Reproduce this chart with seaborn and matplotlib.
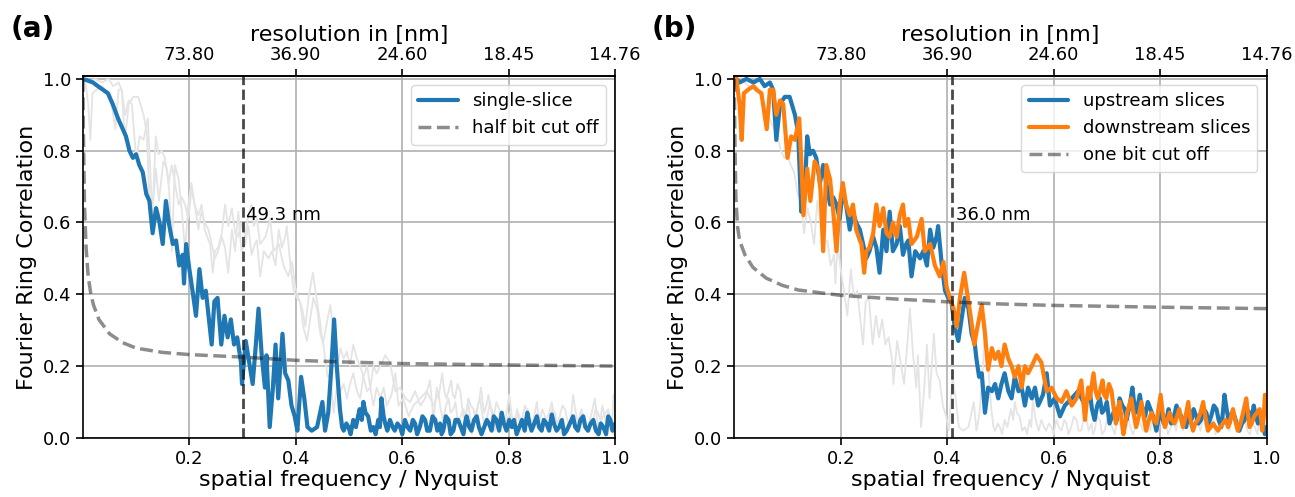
import numpy as np
import pandas as pd
import seaborn as sns
import matplotlib.pyplot as plt

# ---------------------------------------------------------------
# values
# ---------------------------------------------------------------
nyquist_nm = 14.76          # resolution at spatial frequency 1.0
cut_a = 0.30                # crossing of single-slice FRC with half bit
cut_b = 0.41                # crossing of upstream/downstream FRC with one bit
label_a = "49.3 nm"
label_b = "36.0 nm"
top_ticks = [0.2, 0.4, 0.6, 0.8, 1.0]

single_f = [0.0, 0.01, 0.019, 0.028, 0.0375, 0.047, 0.056, 0.066, 0.075, 0.081,
            0.0875, 0.094, 0.1, 0.106, 0.1125, 0.119, 0.125, 0.131, 0.1375, 0.144,
            0.15, 0.156, 0.1625, 0.169, 0.175, 0.181, 0.1875, 0.19, 0.194, 0.2,
            0.206, 0.2125, 0.219, 0.225, 0.231, 0.2375, 0.242, 0.247, 0.253, 0.26,
            0.266, 0.272, 0.278, 0.284, 0.29, 0.297, 0.299, 0.306, 0.3125, 0.319,
            0.325, 0.33, 0.336, 0.342, 0.345, 0.351, 0.357, 0.362, 0.367, 0.375,
            0.38, 0.386, 0.392, 0.398, 0.403, 0.41, 0.416, 0.422, 0.43, 0.44,
            0.45, 0.455, 0.461, 0.467, 0.472, 0.477,
            0.483, 0.487, 0.49, 0.495, 0.499, 0.503, 0.508, 0.513, 0.517, 0.52,
            0.524, 0.527, 0.531, 0.536, 0.541, 0.546, 0.55, 0.555, 0.558, 0.561,
            0.565, 0.568, 0.572, 0.577, 0.582, 0.586, 0.591, 0.596, 0.6, 0.605,
            0.61, 0.615, 0.62, 0.624, 0.628, 0.633, 0.638, 0.643, 0.647, 0.652,
            0.657, 0.662, 0.666, 0.671, 0.674, 0.677, 0.682, 0.687, 0.691, 0.696,
            0.7, 0.705, 0.71, 0.715, 0.718, 0.721, 0.726, 0.73, 0.735, 0.74,
            0.744, 0.749, 0.754, 0.759, 0.763, 0.768, 0.772, 0.777, 0.782, 0.787,
            0.791, 0.796, 0.801, 0.806, 0.81, 0.815, 0.82, 0.825, 0.83, 0.835,
            0.839, 0.843, 0.848, 0.853, 0.857, 0.862, 0.866, 0.871, 0.876, 0.881,
            0.885, 0.89, 0.895, 0.9, 0.904, 0.909, 0.915, 0.921, 0.925, 0.93,
            0.935, 0.94, 0.944, 0.949, 0.954, 0.959, 0.964, 0.969, 0.973, 0.978,
            0.983, 0.987, 0.991, 0.995, 1.0]
single_v = [1.0, 0.995, 0.99, 0.98, 0.97, 0.96, 0.93, 0.89, 0.86, 0.84,
            0.80, 0.78, 0.79, 0.76, 0.74, 0.68, 0.66, 0.57, 0.64, 0.60,
            0.54, 0.66, 0.59, 0.54, 0.55, 0.48, 0.51, 0.43, 0.54, 0.47,
            0.41, 0.34, 0.47, 0.39, 0.41, 0.32, 0.26, 0.38, 0.39, 0.26,
            0.34, 0.28, 0.33, 0.26, 0.28, 0.21, 0.15, 0.27, 0.21, 0.15,
            0.26, 0.36, 0.23, 0.14, 0.23, 0.03, 0.14, 0.26, 0.11, 0.29,
            0.18, 0.16, 0.09, 0.06, 0.02, 0.17, 0.11, 0.03, 0.02, 0.03,
            0.10, 0.02, 0.07, 0.20, 0.33, 0.20,
            0.08, 0.03, 0.02, 0.04, 0.03, 0.01, 0.05, 0.03, 0.06, 0.08,
            0.05, 0.10, 0.07, 0.06, 0.02, 0.03, 0.01, 0.05, 0.03, 0.11,
            0.06, 0.04, 0.02, 0.05, 0.03, 0.02, 0.04, 0.03, 0.01, 0.05,
            0.03, 0.02, 0.05, 0.04, 0.01, 0.03, 0.06, 0.05, 0.02, 0.02,
            0.06, 0.05, 0.02, 0.04, 0.01, 0.02, 0.06, 0.05, 0.01, 0.02,
            0.05, 0.05, 0.03, 0.01, 0.04, 0.06, 0.03, 0.02, 0.05, 0.06,
            0.03, 0.01, 0.03, 0.05, 0.04, 0.02, 0.06, 0.05, 0.02, 0.07,
            0.04, 0.02, 0.05, 0.03, 0.05, 0.01, 0.03, 0.05, 0.02, 0.07,
            0.04, 0.02, 0.04, 0.06, 0.03, 0.02, 0.05, 0.04, 0.02, 0.065,
            0.04, 0.02, 0.03, 0.05, 0.01, 0.02, 0.04, 0.06, 0.03, 0.02,
            0.05, 0.06, 0.03, 0.02, 0.04, 0.05, 0.02, 0.01, 0.04, 0.03,
            0.01, 0.06, 0.05, 0.02, 0.04]

up_f = [0.0, 0.004, 0.01, 0.023, 0.036, 0.048, 0.057, 0.067, 0.073, 0.079,
        0.086, 0.095, 0.104, 0.114, 0.12, 0.126, 0.132, 0.137, 0.142, 0.148,
        0.154, 0.161, 0.167, 0.173, 0.18, 0.186, 0.192, 0.198, 0.204, 0.21,
        0.217, 0.223, 0.229, 0.236, 0.242, 0.248, 0.254, 0.261, 0.267, 0.273,
        0.28, 0.286, 0.292, 0.298, 0.305, 0.311, 0.317, 0.323, 0.327, 0.333,
        0.34, 0.349, 0.355, 0.362, 0.368, 0.374, 0.38, 0.383, 0.39, 0.396,
        0.402, 0.408, 0.414, 0.421, 0.427, 0.433, 0.44, 0.446, 0.452, 0.455,
        0.46, 0.465, 0.471, 0.477, 0.484, 0.49, 0.496, 0.502, 0.508, 0.515,
        0.521, 0.527, 0.534, 0.54, 0.546, 0.552, 0.559, 0.565, 0.571, 0.58,
        0.587, 0.593, 0.602, 0.612, 0.621, 0.634, 0.646, 0.659,
        0.668, 0.672, 0.677, 0.682, 0.687, 0.691, 0.696, 0.7, 0.705, 0.71,
        0.715, 0.719, 0.724, 0.729, 0.734, 0.737, 0.74, 0.744, 0.748, 0.751,
        0.754, 0.758, 0.762, 0.765, 0.768, 0.772, 0.777, 0.782, 0.787, 0.79,
        0.793, 0.797, 0.802, 0.807, 0.812, 0.816, 0.821, 0.826, 0.831, 0.835,
        0.84, 0.845, 0.849, 0.854, 0.859, 0.863, 0.868, 0.872, 0.877, 0.882,
        0.887, 0.891, 0.896, 0.901, 0.906, 0.91, 0.915, 0.918, 0.921, 0.925,
        0.93, 0.935, 0.94, 0.944, 0.949, 0.954, 0.959, 0.963, 0.968, 0.972,
        0.976, 0.98, 0.984, 0.987, 0.99, 0.994, 0.997, 1.0]
up_v = [1.0, 1.0, 0.99, 1.0, 0.99, 1.0, 0.98, 0.99, 0.97, 0.83,
        0.93, 0.95, 0.95, 0.90, 0.85, 0.63, 0.67, 0.84, 0.79, 0.80,
        0.78, 0.71, 0.76, 0.71, 0.65, 0.67, 0.65, 0.61, 0.69, 0.65,
        0.58, 0.63, 0.60, 0.58, 0.54, 0.50, 0.52, 0.56, 0.53, 0.46,
        0.58, 0.52, 0.63, 0.52, 0.54, 0.59, 0.51, 0.54, 0.55, 0.45,
        0.52, 0.50, 0.52, 0.48, 0.58, 0.53, 0.56, 0.59, 0.48, 0.41,
        0.39, 0.38, 0.31, 0.27, 0.33, 0.39, 0.36, 0.29, 0.26, 0.22,
        0.17, 0.18, 0.07, 0.14, 0.13, 0.15, 0.11, 0.15, 0.18, 0.13,
        0.11, 0.17, 0.13, 0.14, 0.09, 0.14, 0.11, 0.14, 0.09, 0.12,
        0.18, 0.09, 0.11, 0.06, 0.09, 0.11, 0.13, 0.09,
        0.13, 0.08, 0.05, 0.09, 0.11, 0.07, 0.08, 0.10, 0.04, 0.06,
        0.08, 0.05, 0.11, 0.09, 0.08, 0.05, 0.07, 0.10, 0.14, 0.10,
        0.07, 0.09, 0.12, 0.09, 0.08, 0.06, 0.10, 0.08, 0.06, 0.04,
        0.02, 0.05, 0.07, 0.04, 0.05, 0.08, 0.04, 0.06, 0.09, 0.07,
        0.06, 0.04, 0.03, 0.07, 0.05, 0.08, 0.06, 0.04, 0.05, 0.08,
        0.07, 0.04, 0.06, 0.09, 0.08, 0.05, 0.03, 0.07, 0.12, 0.08,
        0.04, 0.07, 0.06, 0.04, 0.02, 0.04, 0.05, 0.08, 0.07, 0.05,
        0.09, 0.06, 0.04, 0.07, 0.06, 0.03, 0.01, 0.03]

down_f = [0.0, 0.004, 0.01, 0.014, 0.018, 0.026, 0.036, 0.042, 0.051, 0.061,
          0.067, 0.073, 0.079, 0.086, 0.092, 0.1, 0.107, 0.114, 0.122, 0.126,
          0.13, 0.137, 0.143, 0.151, 0.158, 0.162, 0.167, 0.173, 0.18, 0.186,
          0.192, 0.198, 0.204, 0.21, 0.217, 0.223, 0.229, 0.236, 0.239, 0.244,
          0.248, 0.254, 0.261, 0.267, 0.273, 0.28, 0.286, 0.292, 0.298, 0.305,
          0.311, 0.317, 0.321, 0.327, 0.333, 0.343, 0.352, 0.358, 0.368, 0.377,
          0.386, 0.393, 0.399, 0.405, 0.412, 0.418, 0.424, 0.432, 0.439, 0.445,
          0.451, 0.457, 0.465, 0.471, 0.477, 0.484, 0.49, 0.496, 0.502, 0.508,
          0.515, 0.521, 0.527, 0.534, 0.54, 0.546, 0.552, 0.559, 0.568, 0.577,
          0.587, 0.596, 0.606, 0.615, 0.624, 0.634, 0.643, 0.652, 0.659, 0.665,
          0.668, 0.671, 0.675, 0.679, 0.683, 0.687, 0.692, 0.695, 0.699, 0.704,
          0.709, 0.713, 0.717, 0.72, 0.724, 0.728, 0.731, 0.735, 0.738, 0.742,
          0.746, 0.75, 0.755, 0.76, 0.765, 0.769, 0.774, 0.779, 0.784, 0.788,
          0.793, 0.797, 0.801, 0.805, 0.809, 0.814, 0.818, 0.822, 0.827, 0.832,
          0.836, 0.84, 0.843, 0.848, 0.853, 0.857, 0.862, 0.866, 0.871, 0.876,
          0.881, 0.885, 0.89, 0.895, 0.9, 0.904, 0.909, 0.913, 0.918, 0.923,
          0.928, 0.932, 0.937, 0.941, 0.946, 0.951, 0.956, 0.959, 0.962, 0.965,
          0.968, 0.972, 0.977, 0.982, 0.987, 0.99, 0.992, 0.995, 0.997]
down_v = [1.0, 1.0, 0.93, 0.83, 0.96, 0.97, 0.98, 0.97, 0.96, 0.86,
          0.97, 0.97, 0.90, 0.94, 0.93, 0.78, 0.84, 0.83, 0.89, 0.77,
          0.62, 0.75, 0.66, 0.77, 0.75, 0.69, 0.52, 0.76, 0.72, 0.63,
          0.52, 0.65, 0.71, 0.65, 0.62, 0.65, 0.58, 0.55, 0.54, 0.46,
          0.52, 0.53, 0.57, 0.65, 0.59, 0.64, 0.57, 0.56, 0.60, 0.56,
          0.62, 0.65, 0.59, 0.61, 0.54, 0.56, 0.61, 0.52, 0.54, 0.48,
          0.45, 0.49, 0.42, 0.39, 0.36, 0.31, 0.39, 0.46, 0.39, 0.33,
          0.26, 0.31, 0.37, 0.29, 0.19, 0.25, 0.22, 0.24, 0.20, 0.26,
          0.22, 0.20, 0.17, 0.20, 0.14, 0.20, 0.18, 0.20, 0.23, 0.21,
          0.13, 0.14, 0.11, 0.10, 0.13, 0.09, 0.11, 0.16, 0.05, 0.14,
          0.11, 0.14, 0.18, 0.13, 0.11, 0.13, 0.16, 0.12, 0.11, 0.15,
          0.13, 0.08, 0.04, 0.07, 0.10, 0.05, 0.01, 0.04, 0.07, 0.09,
          0.11, 0.07, 0.03, 0.06, 0.10, 0.06, 0.02, 0.05, 0.07, 0.05,
          0.04, 0.08, 0.12, 0.07, 0.03, 0.05, 0.07, 0.05, 0.04, 0.06,
          0.08, 0.05, 0.03, 0.06, 0.10, 0.05, 0.02, 0.04, 0.05, 0.07,
          0.10, 0.06, 0.02, 0.03, 0.04, 0.03, 0.02, 0.03, 0.04, 0.05,
          0.03, 0.05, 0.08, 0.05, 0.02, 0.04, 0.07, 0.09, 0.11, 0.07,
          0.03, 0.04, 0.06, 0.07, 0.08, 0.05, 0.02, 0.06, 0.12]

half_f = [0.0, 0.001, 0.003, 0.006, 0.01, 0.015, 0.02, 0.03, 0.05, 0.075,
          0.1, 0.15, 0.2, 0.3, 0.4, 0.5, 0.6, 0.8, 1.0]
half_v = [1.0, 0.85, 0.65, 0.53, 0.45, 0.40, 0.37, 0.33, 0.29, 0.265,
          0.25, 0.238, 0.232, 0.225, 0.216, 0.211, 0.207, 0.203, 0.20]

one_f = [0.0, 0.001, 0.003, 0.006, 0.01, 0.02, 0.035, 0.06, 0.09, 0.12,
         0.2, 0.3, 0.4, 0.5, 0.6, 0.8, 1.0]
one_v = [1.0, 0.85, 0.67, 0.59, 0.55, 0.51, 0.475, 0.445, 0.425, 0.412,
         0.397, 0.387, 0.379, 0.373, 0.369, 0.364, 0.36]

# ---------------------------------------------------------------
sns.set_theme(style="ticks", rc={"axes.grid": True, "grid.color": "#b0b0b0",
                                 "grid.linewidth": 1.2, "axes.edgecolor": "black",
                                 "axes.linewidth": 1.2, "text.color": "black",
                                 "axes.labelcolor": "black", "xtick.color": "black",
                                 "ytick.color": "black"})
plt.rcParams['font.family'] = ['DejaVu Sans']

blue = "#1f77b4"
orange = "#ff7f0e"
faint = "#e4e4e4"

fig = plt.figure(figsize=(12.95, 4.97), dpi=100)
ax_a = fig.add_axes([0.064, 0.119, 0.411, 0.728])
ax_b = fig.add_axes([0.567, 0.119, 0.411, 0.728])


def decorate(ax, cut, label_txt):
    ax.axvline(cut, color="k", ls="--", lw=2, alpha=0.8)
    ax.text(cut + 0.006, 0.595, label_txt, fontsize=13, va="bottom")
    ax.set_xlim(0, 1)
    ax.set_ylim(0, 1.008)
    ax.set_xticks(top_ticks)
    ax.set_xticklabels([f"{t:.1f}" for t in top_ticks])
    ax.set_yticks([0.0, 0.2, 0.4, 0.6, 0.8, 1.0])
    ax.set_yticklabels(["0.0", "0.2", "0.4", "0.6", "0.8", "1.0"])
    ax.tick_params(labelsize=13, length=5, width=1.2, colors="black")
    ax.set_xlabel("spatial frequency / Nyquist", fontsize=16, labelpad=2)
    ax.set_ylabel("Fourier Ring Correlation", fontsize=16)
    sec = ax.secondary_xaxis("top")
    sec.set_xticks(top_ticks)
    sec.set_xticklabels([f"{nyquist_nm / t:.2f}" for t in top_ticks])
    sec.tick_params(labelsize=13, length=5, width=1.2)
    sec.set_xlabel("resolution in [nm]", fontsize=16, labelpad=4)
    ax.legend(loc="upper right", fontsize=13, framealpha=0.8, edgecolor="#d0d0d0",
              handlelength=2.2)


# panel (a)
sns.lineplot(x=up_f, y=up_v, ax=ax_a, color=faint, lw=1.3)
sns.lineplot(x=down_f, y=down_v, ax=ax_a, color=faint, lw=1.3)
sns.lineplot(x=single_f, y=single_v, ax=ax_a, color=blue, lw=3, label="single-slice")
sns.lineplot(x=half_f, y=half_v, ax=ax_a, color="k", alpha=0.5, lw=2.5, ls="--",
             label="half bit cut off")
decorate(ax_a, cut_a, label_a)

# panel (b)
sns.lineplot(x=single_f, y=single_v, ax=ax_b, color=faint, lw=1.3)
sns.lineplot(x=up_f, y=up_v, ax=ax_b, color=blue, lw=3, label="upstream slices")
sns.lineplot(x=down_f, y=down_v, ax=ax_b, color=orange, lw=3, label="downstream slices")
sns.lineplot(x=one_f, y=one_v, ax=ax_b, color="k", alpha=0.5, lw=2.5, ls="--",
             label="one bit cut off")
decorate(ax_b, cut_b, label_b)

fig.text(0.008, 0.925, "(a)", fontsize=20, fontweight="bold")
fig.text(0.503, 0.925, "(b)", fontsize=20, fontweight="bold")

fig.savefig("out.png", dpi=100)
